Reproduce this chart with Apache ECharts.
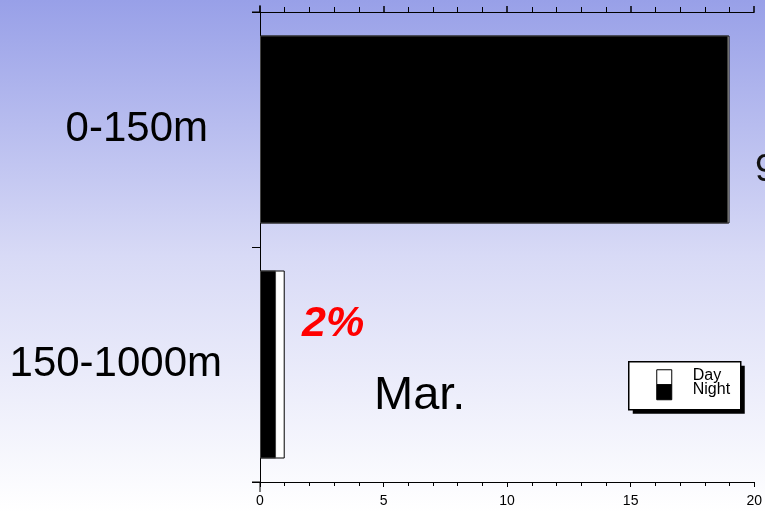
<!DOCTYPE html>
<html>
<head>
<meta charset="utf-8">
<script src="https://cdn.jsdelivr.net/npm/echarts@6/dist/echarts.min.js"></script>
<style>
  html, body { margin: 0; padding: 0; }
  #chart { width: 765px; height: 512px; }
</style>
</head>
<body>
<div id="chart"></div>
<script>
// Depth bands (top to bottom)
var depthBands = ['0-150m', '150-1000m'];
// Day and night values for each band
var dayValues = [19.0, 1.0];
var nightValues = [18.95, 0.65];
// Percentage notes for each band
var bandNotes = ['98%', '2%'];
var monthLabel = 'Mar.';
var xTicks = { min: 0, max: 20, step: 5 };

var chart = echarts.init(document.getElementById('chart'));

var axisLine = { show: true, lineStyle: { color: '#000', width: 1 } };

chart.setOption({
  animation: false,
  backgroundColor: {
    type: 'linear', x: 0, y: 0, x2: 0, y2: 1,
    colorStops: [
      { offset: 0, color: '#98a0e8' },
      { offset: 0.5, color: '#d8daf6' },
      { offset: 1, color: '#ffffff' }
    ]
  },
  grid: { left: 260, right: 8, top: 12, bottom: 30, containLabel: false },
  xAxis: [
    {
      type: 'value', position: 'bottom',
      min: xTicks.min, max: xTicks.max, interval: xTicks.step,
      axisLine: axisLine,
      axisTick: { show: true, length: 5, lineStyle: { color: '#000' } },
      minorTick: { show: true, splitNumber: 5, length: 4, lineStyle: { color: '#000' } },
      splitLine: { show: false },
      axisLabel: { color: '#000', fontFamily: 'Arial, Liberation Sans', fontSize: 14, margin: 12 }
    },
    {
      type: 'value', position: 'top',
      min: xTicks.min, max: xTicks.max, interval: xTicks.step,
      axisLine: axisLine,
      axisTick: { show: true, length: 6, lineStyle: { color: '#000', width: 1.5 } },
      minorTick: { show: true, splitNumber: 5, length: 5, lineStyle: { color: '#000' } },
      splitLine: { show: false },
      axisLabel: { show: false }
    }
  ],
  yAxis: {
    type: 'category', inverse: true,
    data: [
      { value: depthBands[0], textStyle: { padding: [0, 14, 0, 0] } },
      { value: depthBands[1] }
    ],
    axisLine: axisLine,
    axisTick: { show: true, length: 8, lineStyle: { color: '#000' } },
    axisLabel: { color: '#000', fontFamily: 'Arial, Liberation Sans', fontSize: 42, margin: 38 }
  },
  series: [
    {
      name: 'Day', type: 'bar', data: dayValues,
      barWidth: '80%', barGap: '-100%',
      itemStyle: { color: '#ffffff', borderColor: '#000', borderWidth: 1 }
    },
    {
      name: 'Night', type: 'bar', data: nightValues,
      barWidth: '80%',
      itemStyle: { color: '#000000', borderColor: '#444', borderWidth: 1 }
    }
  ],
  graphic: [
    // axis line extensions past the plot frame
    { type: 'line', shape: { x1: 252, y1: 12, x2: 260, y2: 12 }, style: { stroke: '#000', lineWidth: 1 } },
    { type: 'line', shape: { x1: 252, y1: 482, x2: 260, y2: 482 }, style: { stroke: '#000', lineWidth: 1 } },
    { type: 'line', shape: { x1: 260, y1: 5, x2: 260, y2: 12 }, style: { stroke: '#000', lineWidth: 1 } },
    { type: 'line', shape: { x1: 260, y1: 482, x2: 260, y2: 492 }, style: { stroke: '#000', lineWidth: 1 } },
    // notes
    { type: 'text', left: 755, top: 152,
      style: { text: bandNotes[0], fill: '#111', font: '38px Arial, Liberation Sans' } },
    { type: 'text', left: 302, top: 303,
      style: { text: bandNotes[1], fill: '#ff0000', font: 'italic bold 43px Arial, Liberation Sans' } },
    { type: 'text', left: 374, top: 373,
      style: { text: monthLabel, fill: '#000', font: '47px Arial, Liberation Sans' } },
    // legend
    {
      type: 'group', left: 628, top: 361,
      children: [
        { type: 'rect', shape: { x: 4, y: 4, width: 112, height: 48 }, style: { fill: '#000' } },
        { type: 'rect', shape: { x: 0, y: 0, width: 112, height: 48 }, style: { fill: '#fff', stroke: '#000', lineWidth: 1.5 } },
        { type: 'rect', shape: { x: 28, y: 8, width: 15, height: 15 }, style: { fill: '#fff', stroke: '#000', lineWidth: 1 } },
        { type: 'rect', shape: { x: 28, y: 23, width: 15, height: 15 }, style: { fill: '#000', stroke: '#000', lineWidth: 1 } },
        { type: 'text', x: 64, y: 6, style: { text: 'Day', fill: '#000', font: '16px Arial, Liberation Sans' } },
        { type: 'text', x: 64, y: 20, style: { text: 'Night', fill: '#000', font: '16px Arial, Liberation Sans' } }
      ]
    }
  ]
});
</script>
</body>
</html>
